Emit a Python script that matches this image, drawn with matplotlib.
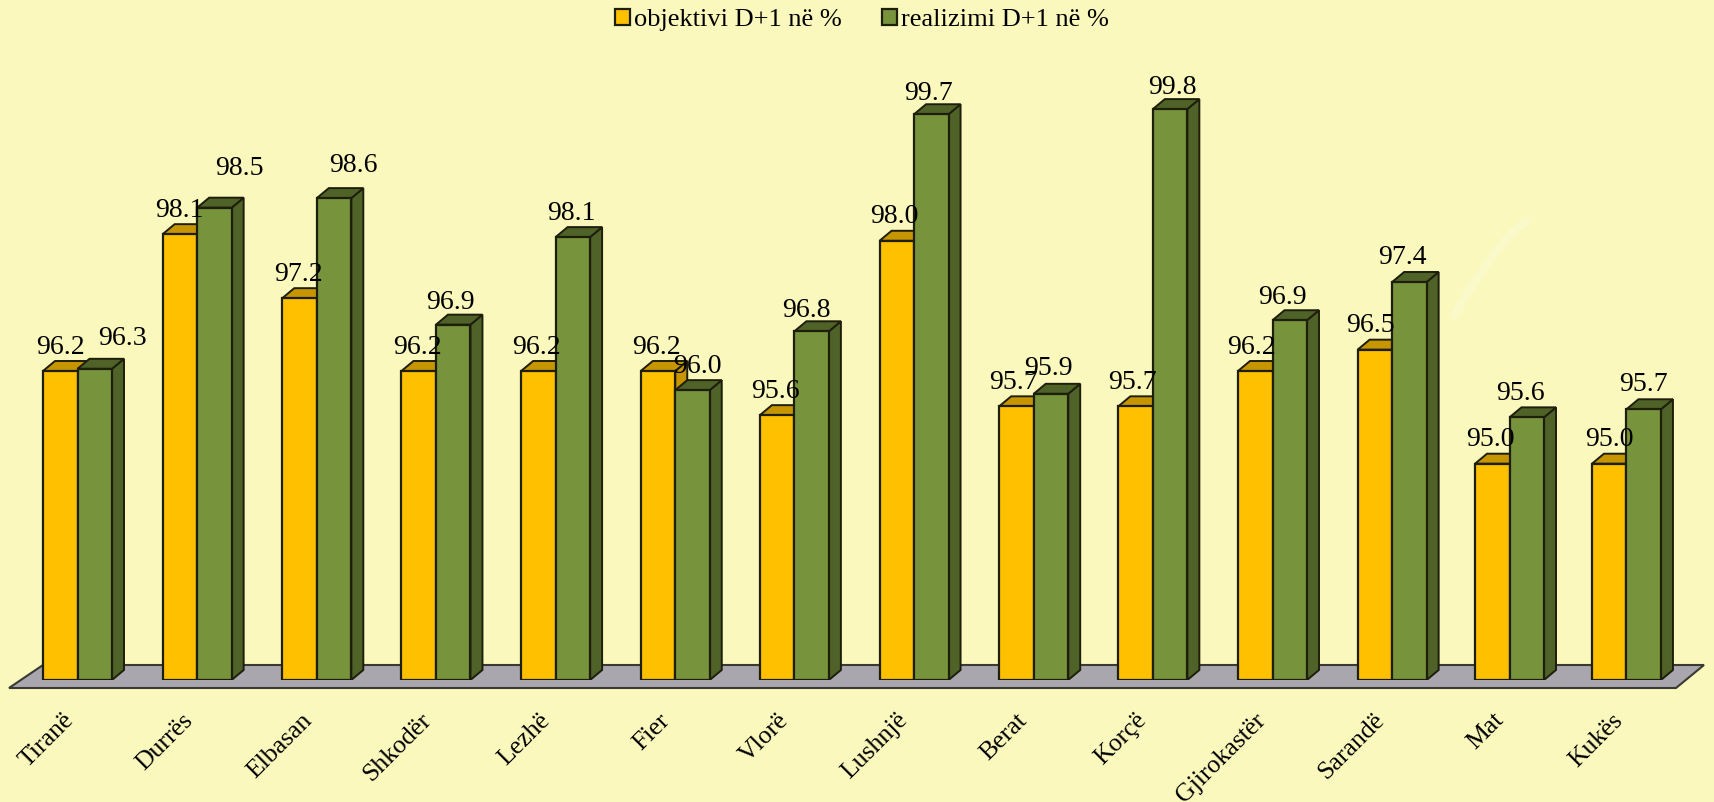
#!/usr/bin/env python3
# objektivi / realizimi D+1 per qark, pseudo 3D bars
import matplotlib
matplotlib.use('Agg')
import matplotlib.pyplot as plt
from matplotlib.patches import Polygon, Patch
from matplotlib.transforms import ScaledTranslation

cities = ['Tiranë', 'Durrës', 'Elbasan', 'Shkodër', 'Lezhë', 'Fier', 'Vlorë',
          'Lushnjë', 'Berat', 'Korçë', 'Gjirokastër', 'Sarandë', 'Mat', 'Kukës']

# bar heights
objektivi = [96.20, 98.06, 97.19, 96.20, 96.20, 96.20, 95.60,
             97.97, 95.72, 95.72, 96.20, 96.49, 94.94, 94.94]
realizimi = [96.23, 98.42, 98.55, 96.83, 98.02, 95.94, 96.74,
             99.69, 95.89, 99.76, 96.89, 97.41, 95.57, 95.68]

# printed labels
objektivi_labels = ['96.2', '98.1', '97.2', '96.2', '96.2', '96.2', '95.6',
                    '98.0', '95.7', '95.7', '96.2', '96.5', '95.0', '95.0']
realizimi_labels = ['96.3', '98.5', '98.6', '96.9', '98.1', '96.0', '96.8',
                    '99.7', '95.9', '99.8', '96.9', '97.4', '95.6', '95.7']

# label nudges for the green series, pixels
green_dx = [28, 25, 20, -2, 0, 7, -3, 0, 0, 5, -4, -3, -4, 0]
green_dy = [30, 39, 33, 22, 24, 24, 21, 21, 25, 22, 23, 24, 24, 25]

# the bar groups do not sit quite evenly in the source, pixels
bar_shift = [0, 0.5, 1, 1, 1.5, 2, 2, 2.5, 3, 3, 3.5, 4, 2.2, 0]

BG = '#FAF8BC'
EDGE = '#1E1E0C'
YELLOW, YELLOW_DARK = '#FFC000', '#C69500'
GREEN, GREEN_DARK = '#77933C', '#4F6228'

W, H = 1714, 802
BASE_PX = 680
PX_PER_CAT = 119.15
PX_PER_VAL = 73.57
X0_PX = 77.5

plt.rcParams['font.family'] = ['Liberation Serif', 'DejaVu Serif']

fig = plt.figure(figsize=(W / 100, H / 100), dpi=100, facecolor=BG)
ax = fig.add_axes([0, (H - BASE_PX) / H, 1, BASE_PX / H], facecolor=BG)
ax.set_xlim(-X0_PX / PX_PER_CAT, (W - X0_PX) / PX_PER_CAT)
ax.set_ylim(92, 92 + BASE_PX / PX_PER_VAL)
for s in ax.spines.values():
    s.set_visible(False)
ax.yaxis.set_visible(False)

bar_w = 34.5 / PX_PER_CAT
dx = 12 / PX_PER_CAT
dy = 10 / PX_PER_VAL


def px_x(p):
    return (p - X0_PX) / PX_PER_CAT


def px_y(p):
    return 92 + (BASE_PX - p) / PX_PER_VAL


# floor
floor = [(px_x(9), px_y(688)), (px_x(43), px_y(665)), (px_x(1704), px_y(665)), (px_x(1676), px_y(688))]
ax.add_patch(Polygon(floor, closed=True, fc='#A9A6AE', ec='#3A3A34', lw=1.5, clip_on=False, zorder=1))


def bar3d(x, val, front, dark, z):
    side = [(x + bar_w, 92), (x + bar_w + dx, 92 + dy), (x + bar_w + dx, val + dy), (x + bar_w, val)]
    top = [(x, val), (x + dx, val + dy), (x + bar_w + dx, val + dy), (x + bar_w, val)]
    ax.add_patch(Polygon(side, closed=True, fc=dark, ec=EDGE, lw=1.4, zorder=z))
    ax.add_patch(Polygon(top, closed=True, fc=dark, ec=EDGE, lw=1.4, zorder=z))
    ax.bar(x, val - 92, bar_w, bottom=92, align='edge', color=front, edgecolor=EDGE, linewidth=1.6, zorder=z)


for i in range(len(cities)):
    x = i + bar_shift[i] / PX_PER_CAT
    bar3d(x - bar_w, objektivi[i], YELLOW, YELLOW_DARK, 2 + i * 0.01)
    bar3d(x, realizimi[i], GREEN, GREEN_DARK, 2.005 + i * 0.01)

# value labels
for i in range(len(cities)):
    ax.annotate(objektivi_labels[i], (i - bar_w / 2, objektivi[i]), xytext=(0, 24),
                textcoords='offset pixels', ha='center', va='center', fontsize=20, zorder=5)
    ax.annotate(realizimi_labels[i], (i + bar_w / 2, realizimi[i]), xytext=(green_dx[i], green_dy[i]),
                textcoords='offset pixels', ha='center', va='center', fontsize=20, zorder=5)

ax.set_xticks(range(len(cities)))
ax.set_xticklabels(cities, rotation=45, ha='right', va='top', rotation_mode='anchor', fontsize=18.5)
ax.tick_params(axis='x', length=0, pad=21)
shift_left = ScaledTranslation(-15 / 100, 0, fig.dpi_scale_trans)
for lab in ax.get_xticklabels():
    lab.set_transform(lab.get_transform() + shift_left)

handles = [Patch(fc=YELLOW, ec=EDGE, lw=1.6), Patch(fc=GREEN, ec=EDGE, lw=1.6)]
fig.legend(handles, ['objektivi D+1 në %', 'realizimi D+1 në %'], loc='center', ncol=2, frameon=False,
           bbox_to_anchor=(862 / W, 1 - 20 / H), fontsize=19, handlelength=0.57, handleheight=0.57,
           handletextpad=0.14, columnspacing=1.55, borderpad=0)

# faint pale streak in the source image
streak_x = [1455, 1468, 1482, 1497, 1510, 1525]
streak_y = [315, 292, 272, 250, 235, 222]
ax.plot([px_x(p) for p in streak_x], [px_y(p) for p in streak_y], color='white', alpha=0.2, lw=6, zorder=1.5)

fig.savefig('out.png', dpi=100, facecolor=BG)
